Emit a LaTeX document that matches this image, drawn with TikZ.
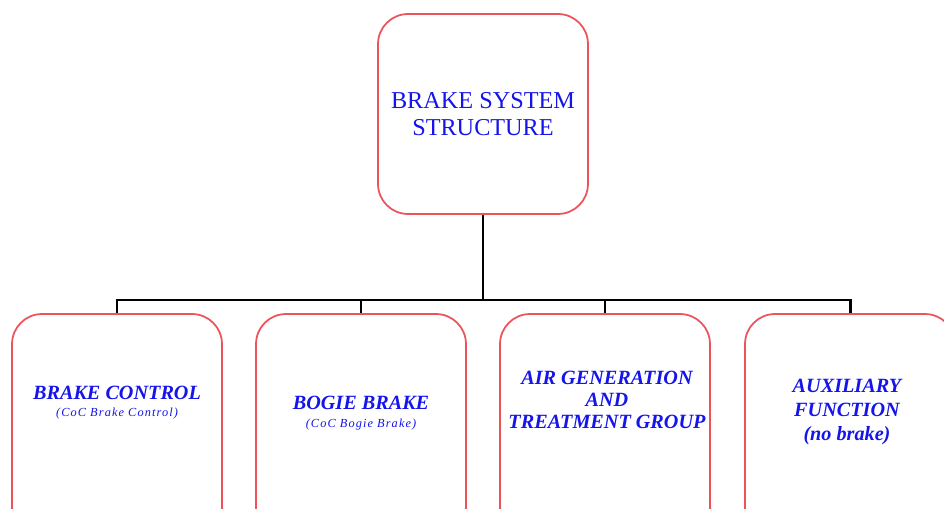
\documentclass[tikz,border=0pt]{standalone}
\usepackage{fontspec}
\setmainfont{Liberation Serif}
\newfontfamily\spacedfont{Liberation Serif}[LetterSpace=9]
\definecolor{boxred}{rgb}{0.93,0.33,0.35}
\definecolor{txtblue}{rgb}{0.08,0.08,0.92}

\begin{document}
\begin{tikzpicture}[x=0.02cm, y=-0.02cm,
    % rounded boxes of the tree
    partBox/.style={
        draw=boxred, line width=1pt, fill=white,
        rounded corners=0.6cm,
        minimum width=4.2cm, minimum height=4.8cm
    },
    % text inside the boxes
    partText/.style={
        text=txtblue, align=center, inner sep=0pt,
        font=\fontsize{11.5pt}{12.6pt}\selectfont\bfseries\itshape
    },
    bus/.style={line width=1.7pt, black}
]
    \useasboundingbox (0,0) rectangle (944,509);
    \clip (0,0) rectangle (944,509);

    % Top box
    \node[partBox, minimum height=4cm, text=txtblue, align=center,
          font=\fontsize{13.8pt}{15.4pt}\selectfont] (root) at (483,114)
        {BRAKE SYSTEM\\STRUCTURE};

    % Bottom boxes (run past the lower edge)
    \node[partBox] (ctrl)  at (117,434) {};
    \node[partBox] (bogie) at (361,434) {};
    \node[partBox] (air)   at (605,434) {};
    \node[partBox] (aux)   at (850,434) {};

    % Box texts
    \node[partText] (ctrltxt)  at (117,403)
        {BRAKE CONTROL\\[-3pt]{\fontsize{7pt}{8pt}\selectfont\spacedfont\mdseries\itshape (CoC Brake Control)}};
    \node[partText] (bogietxt) at (361,413)
        {BOGIE BRAKE\\[-2.5pt]{\fontsize{7pt}{8pt}\selectfont\spacedfont\mdseries\itshape (CoC Bogie Brake)}};
    \node[partText] (airtxt)   at (607,400)
        {AIR GENERATION\\AND\\TREATMENT GROUP};
    \node[partText, font=\fontsize{11.5pt}{13.6pt}\selectfont\bfseries\itshape]
        (auxtxt) at (847,412) {AUXILIARY\\FUNCTION\\(no brake)};

    % Connectors
    \coordinate (split) at (483,300);
    \draw[bus] (root.south) -- (split);
    \draw[bus] (ctrl.north) -- (ctrl.north |- split) -- (aux.north |- split) -- (aux.north);
    \foreach \part in {bogie, air}
        \draw[bus] (\part.north) -- (\part.north |- split);
\end{tikzpicture}
\end{document}
